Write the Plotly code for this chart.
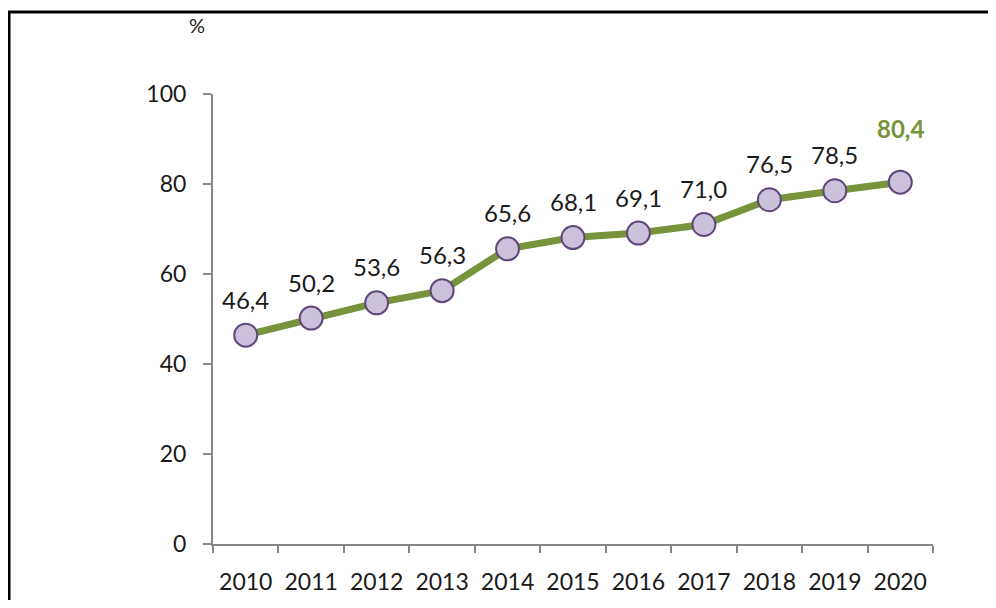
import plotly.graph_objects as go

years = ["2010", "2011", "2012", "2013", "2014", "2015", "2016", "2017", "2018", "2019", "2020"]
values = [46.4, 50.2, 53.6, 56.3, 65.6, 68.1, 69.1, 71.0, 76.5, 78.5, 80.4]
labels = ["46,4", "50,2", "53,6", "56,3", "65,6", "68,1", "69,1", "71,0", "76,5", "78,5", "80,4"]
y_ticks = [0, 20, 40, 60, 80, 100]

FONT = "Lato, 'Open Sans', sans-serif"
GREEN = "#77933C"
TEXT = "#1a1a1a"

fig = go.Figure()
fig.add_trace(go.Scatter(
    x=list(range(len(years))), y=values, mode="lines+markers",
    line=dict(color=GREEN, width=7),
    marker=dict(size=23, color="#CCC1DA", line=dict(color="#60497A", width=2)),
    hoverinfo="skip", showlegend=False,
))

for i, (v, lab) in enumerate(zip(values, labels)):
    last = i == len(years) - 1
    fig.add_annotation(
        x=i, y=v, text=f"<b>{lab}</b>" if last else lab, showarrow=False,
        yshift=54 if last else 36,
        font=dict(family=FONT, size=24, color=GREEN if last else TEXT),
    )

fig.add_annotation(x=0, y=1.0, xref="paper", yref="paper", text="%", showarrow=False,
                   xanchor="center", yanchor="middle",
                   xshift=-16, yshift=69, font=dict(family=FONT, size=20, color=TEXT))

# outer frame (top and left edges visible)
fig.add_shape(type="path", xref="paper", yref="paper",
              path="M -0.2833 -0.3 L -0.2833 1.1822 L 1.2 1.1822",
              line=dict(color="black", width=3))

fig.update_xaxes(
    range=[-0.5, 10.5], tickvals=list(range(len(years))), ticktext=years,
    showline=True, linecolor="#868686", linewidth=2, automargin=False,
    ticks="", showgrid=False, zeroline=False, ticklabelstandoff=16,
    tickfont=dict(family=FONT, size=23, color=TEXT),
)
# tick marks at category boundaries via minor ticks
fig.update_xaxes(minor=dict(tickvals=[i - 0.5 for i in range(len(years) + 1)],
                            ticks="outside", ticklen=7, tickcolor="#868686", tickwidth=2))
fig.update_yaxes(
    range=[0, 100], tickvals=y_ticks, ticktext=[str(t) for t in y_ticks],
    showline=True, linecolor="#868686", linewidth=2, automargin=False,
    ticks="outside", ticklen=8, tickcolor="#868686", tickwidth=2,
    showgrid=False, zeroline=False, ticklabelstandoff=12,
    tickfont=dict(family=FONT, size=23, color=TEXT),
)

fig.update_layout(
    width=980, height=592,
    margin=dict(l=205, r=55, t=86, b=56),
    paper_bgcolor="white", plot_bgcolor="white",
)

fig.write_html("out.html")
